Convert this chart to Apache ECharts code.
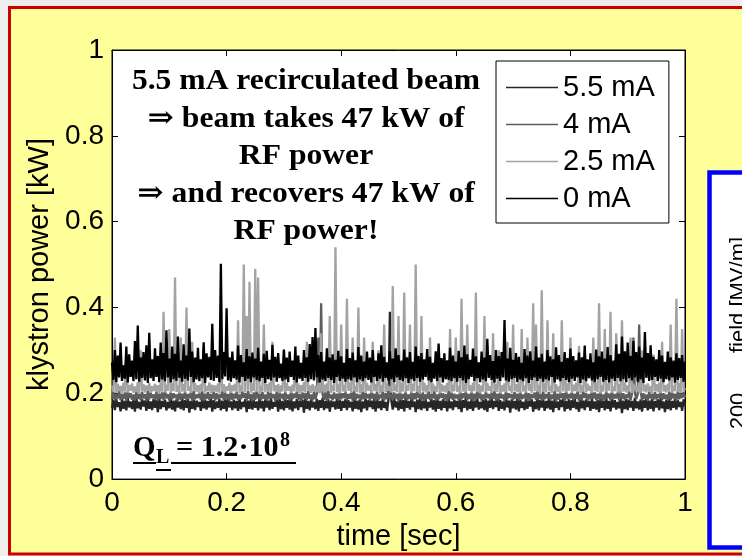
<!DOCTYPE html>
<html>
<head>
  <meta charset="UTF-8">
  <title>klystron power</title>
  <script src="https://cdn.jsdelivr.net/npm/echarts/dist/echarts.min.js"></script>
</head>
<style type="text/css">
    html,body {padding: 0; margin: 0; background: #eeeeee;}
    #chart {width: 742px; height: 556px;}
</style>
<body>
<div id="chart"></div>
<script type="text/javascript">

    // sample spacing of the traces [sec]
    var dt = 0.0025;

    var seriesNames = ['5.5 mA', '4 mA', '2.5 mA', '0 mA'];
    var xTicks = [0, 0.2, 0.4, 0.6, 0.8, 1];
    var yTicks = [0, 0.2, 0.4, 0.6, 0.8, 1];

    // 5.5 mA
    var p55 = [
        0.166, 0.184, 0.161, 0.187, 0.168, 0.179, 0.158, 0.186, 0.164, 0.182, 0.160, 0.189, 0.167, 0.181, 0.163, 0.185, 0.157, 0.188, 0.165, 0.180,
        0.162, 0.186, 0.169, 0.183, 0.159, 0.188, 0.164, 0.181, 0.161, 0.187, 0.166, 0.184, 0.156, 0.189, 0.163, 0.182, 0.168, 0.185, 0.160, 0.180,
        0.165, 0.188, 0.162, 0.183, 0.158, 0.186, 0.167, 0.181, 0.163, 0.189, 0.160, 0.184, 0.166, 0.187, 0.155, 0.182, 0.164, 0.186, 0.161, 0.183,
        0.168, 0.180, 0.159, 0.188, 0.165, 0.185, 0.162, 0.182, 0.167, 0.189, 0.157, 0.184, 0.163, 0.181, 0.166, 0.187, 0.160, 0.183, 0.164, 0.186,
        0.158, 0.189, 0.167, 0.181, 0.161, 0.185, 0.165, 0.182, 0.159, 0.188, 0.163, 0.180, 0.168, 0.186, 0.156, 0.183, 0.164, 0.187, 0.162, 0.184,
        0.166, 0.181, 0.160, 0.189, 0.165, 0.182, 0.158, 0.186, 0.167, 0.183, 0.161, 0.188, 0.164, 0.180, 0.169, 0.185, 0.157, 0.187, 0.163, 0.182,
        0.160, 0.186, 0.166, 0.184, 0.162, 0.189, 0.158, 0.181, 0.165, 0.187, 0.161, 0.183, 0.168, 0.185, 0.155, 0.188, 0.164, 0.182, 0.160, 0.186,
        0.167, 0.180, 0.163, 0.187, 0.159, 0.184, 0.166, 0.189, 0.161, 0.182, 0.165, 0.186, 0.157, 0.183, 0.168, 0.181, 0.162, 0.188, 0.164, 0.185,
        0.159, 0.182, 0.166, 0.187, 0.161, 0.184, 0.167, 0.180, 0.158, 0.189, 0.164, 0.183, 0.162, 0.186, 0.156, 0.181, 0.165, 0.188, 0.160, 0.184,
        0.168, 0.183, 0.163, 0.186, 0.157, 0.189, 0.165, 0.182, 0.161, 0.187, 0.166, 0.180, 0.159, 0.185, 0.390, 0.183, 0.162, 0.188, 0.167, 0.181,
        0.160, 0.186, 0.164, 0.184, 0.158, 0.189, 0.166, 0.182, 0.162, 0.187, 0.168, 0.181, 0.156, 0.185, 0.163, 0.188, 0.161, 0.183, 0.165, 0.186,
        0.159, 0.180, 0.167, 0.187, 0.162, 0.184, 0.157, 0.189, 0.164, 0.182, 0.160, 0.186, 0.166, 0.183, 0.158, 0.188, 0.165, 0.181, 0.161, 0.185,
        0.168, 0.182, 0.163, 0.187, 0.156, 0.184, 0.166, 0.189, 0.160, 0.181, 0.164, 0.186, 0.159, 0.183, 0.167, 0.188, 0.162, 0.180, 0.165, 0.185,
        0.161, 0.187, 0.157, 0.183, 0.166, 0.189, 0.163, 0.182, 0.168, 0.186, 0.159, 0.184, 0.164, 0.181, 0.160, 0.188, 0.167, 0.183, 0.155, 0.186,
        0.165, 0.182, 0.162, 0.189, 0.158, 0.185, 0.166, 0.180, 0.161, 0.187, 0.164, 0.183, 0.169, 0.186, 0.157, 0.181, 0.163, 0.188, 0.160, 0.184,
        0.167, 0.186, 0.159, 0.182, 0.165, 0.189, 0.162, 0.183, 0.156, 0.187, 0.166, 0.181, 0.161, 0.185, 0.168, 0.188, 0.158, 0.182, 0.164, 0.186,
        0.160, 0.184, 0.166, 0.189, 0.163, 0.180, 0.157, 0.187, 0.165, 0.183, 0.161, 0.186, 0.168, 0.182, 0.159, 0.188, 0.164, 0.181, 0.162, 0.185,
        0.156, 0.187, 0.166, 0.183, 0.160, 0.189, 0.164, 0.182, 0.158, 0.186, 0.167, 0.184, 0.162, 0.180, 0.165, 0.188, 0.154, 0.183, 0.163, 0.187,
        0.161, 0.185, 0.167, 0.182, 0.159, 0.189, 0.165, 0.181, 0.162, 0.186, 0.157, 0.184, 0.166, 0.188, 0.160, 0.183, 0.164, 0.187, 0.158, 0.182,
        0.167, 0.186, 0.161, 0.189, 0.165, 0.181, 0.156, 0.185, 0.163, 0.188, 0.160, 0.182, 0.166, 0.187, 0.162, 0.184, 0.168, 0.180, 0.159, 0.186,
        0.170
    ];

    // 4 mA
    var p4 = [
        0.186, 0.203, 0.183, 0.199, 0.188, 0.205, 0.184, 0.198, 0.187, 0.202, 0.182, 0.206, 0.189, 0.200, 0.185, 0.197, 0.183, 0.204, 0.187, 0.199,
        0.184, 0.203, 0.188, 0.198, 0.182, 0.205, 0.186, 0.201, 0.189, 0.197, 0.185, 0.204, 0.183, 0.199, 0.187, 0.202, 0.184, 0.206, 0.188, 0.198,
        0.183, 0.203, 0.186, 0.200, 0.189, 0.197, 0.182, 0.205, 0.185, 0.199, 0.187, 0.204, 0.184, 0.198, 0.188, 0.202, 0.183, 0.206, 0.186, 0.197,
        0.189, 0.201, 0.184, 0.205, 0.182, 0.199, 0.187, 0.203, 0.185, 0.198, 0.188, 0.204, 0.183, 0.200, 0.186, 0.197, 0.189, 0.205, 0.184, 0.202,
        0.187, 0.198, 0.182, 0.206, 0.185, 0.199, 0.188, 0.203, 0.184, 0.197, 0.186, 0.204, 0.189, 0.200, 0.183, 0.205, 0.187, 0.198, 0.182, 0.202,
        0.185, 0.206, 0.188, 0.199, 0.184, 0.203, 0.187, 0.197, 0.183, 0.204, 0.186, 0.200, 0.189, 0.198, 0.182, 0.205, 0.185, 0.202, 0.188, 0.199,
        0.184, 0.203, 0.187, 0.197, 0.183, 0.206, 0.186, 0.199, 0.189, 0.204, 0.185, 0.198, 0.182, 0.202, 0.188, 0.200, 0.184, 0.205, 0.187, 0.197,
        0.183, 0.204, 0.186, 0.199, 0.330, 0.201, 0.410, 0.198, 0.185, 0.203, 0.182, 0.206, 0.188, 0.197, 0.184, 0.202, 0.187, 0.199, 0.183, 0.205,
        0.186, 0.200, 0.189, 0.204, 0.184, 0.198, 0.187, 0.203, 0.182, 0.206, 0.185, 0.199, 0.188, 0.197, 0.183, 0.204, 0.186, 0.201, 0.189, 0.198,
        0.184, 0.205, 0.187, 0.199, 0.182, 0.203, 0.185, 0.197, 0.188, 0.204, 0.183, 0.200, 0.186, 0.206, 0.189, 0.198, 0.184, 0.202, 0.187, 0.199,
        0.182, 0.205, 0.185, 0.198, 0.188, 0.203, 0.184, 0.197, 0.187, 0.204, 0.183, 0.200, 0.186, 0.206, 0.189, 0.199, 0.185, 0.202, 0.182, 0.198,
        0.187, 0.204, 0.184, 0.199, 0.188, 0.205, 0.183, 0.197, 0.186, 0.203, 0.189, 0.200, 0.185, 0.198, 0.182, 0.206, 0.187, 0.202, 0.184, 0.199,
        0.188, 0.197, 0.183, 0.204, 0.186, 0.200, 0.189, 0.205, 0.184, 0.198, 0.187, 0.203, 0.182, 0.199, 0.185, 0.206, 0.188, 0.201, 0.183, 0.197,
        0.186, 0.204, 0.189, 0.198, 0.184, 0.202, 0.187, 0.205, 0.183, 0.199, 0.185, 0.203, 0.188, 0.197, 0.182, 0.206, 0.186, 0.200, 0.189, 0.198,
        0.184, 0.203, 0.187, 0.199, 0.183, 0.205, 0.186, 0.197, 0.188, 0.204, 0.182, 0.200, 0.185, 0.198, 0.189, 0.202, 0.184, 0.206, 0.187, 0.199,
        0.183, 0.204, 0.186, 0.198, 0.188, 0.203, 0.184, 0.197, 0.187, 0.205, 0.182, 0.199, 0.185, 0.202, 0.189, 0.200, 0.183, 0.206, 0.186, 0.198,
        0.188, 0.203, 0.184, 0.199, 0.187, 0.205, 0.182, 0.197, 0.185, 0.204, 0.189, 0.200, 0.183, 0.198, 0.186, 0.206, 0.188, 0.202, 0.184, 0.199,
        0.187, 0.203, 0.182, 0.197, 0.185, 0.205, 0.189, 0.199, 0.184, 0.204, 0.186, 0.198, 0.188, 0.202, 0.183, 0.206, 0.187, 0.200, 0.185, 0.197,
        0.189, 0.204, 0.184, 0.199, 0.330, 0.202, 0.186, 0.198, 0.360, 0.205, 0.183, 0.200, 0.187, 0.197, 0.182, 0.204, 0.188, 0.199, 0.185, 0.203,
        0.186, 0.198, 0.189, 0.205, 0.184, 0.200, 0.187, 0.197, 0.183, 0.204, 0.185, 0.202, 0.188, 0.199, 0.182, 0.206, 0.186, 0.198, 0.189, 0.203,
        0.190
    ];

    // 2.5 mA
    var p25 = [
        0.218, 0.203, 0.330, 0.201, 0.222, 0.205, 0.217, 0.200, 0.225, 0.204, 0.290, 0.202, 0.219, 0.206, 0.223, 0.201, 0.216, 0.203, 0.226, 0.200,
        0.300, 0.204, 0.221, 0.202, 0.218, 0.206, 0.224, 0.201, 0.217, 0.205, 0.222, 0.203, 0.219, 0.200, 0.225, 0.204, 0.390, 0.202, 0.220, 0.206,
        0.350, 0.201, 0.223, 0.205, 0.470, 0.203, 0.218, 0.200, 0.330, 0.204, 0.221, 0.202, 0.400, 0.206, 0.216, 0.201, 0.320, 0.205, 0.224, 0.203,
        0.219, 0.200, 0.222, 0.204, 0.310, 0.202, 0.217, 0.206, 0.225, 0.201, 0.220, 0.205, 0.218, 0.203, 0.223, 0.200, 0.300, 0.204, 0.221, 0.202,
        0.216, 0.206, 0.224, 0.201, 0.219, 0.205, 0.222, 0.203, 0.370, 0.200, 0.218, 0.204, 0.500, 0.202, 0.380, 0.206, 0.460, 0.201, 0.223, 0.205,
        0.490, 0.203, 0.470, 0.200, 0.217, 0.204, 0.360, 0.202, 0.221, 0.206, 0.225, 0.201, 0.320, 0.205, 0.219, 0.203, 0.222, 0.200, 0.218, 0.204,
        0.300, 0.202, 0.224, 0.206, 0.216, 0.201, 0.220, 0.205, 0.290, 0.203, 0.223, 0.200, 0.219, 0.204, 0.226, 0.202, 0.320, 0.206, 0.218, 0.201,
        0.221, 0.205, 0.217, 0.203, 0.224, 0.200, 0.340, 0.204, 0.220, 0.202, 0.223, 0.206, 0.380, 0.201, 0.218, 0.205, 0.540, 0.203, 0.222, 0.200,
        0.360, 0.204, 0.219, 0.202, 0.420, 0.206, 0.225, 0.201, 0.330, 0.205, 0.217, 0.203, 0.400, 0.200, 0.221, 0.204, 0.330, 0.202, 0.224, 0.206,
        0.218, 0.201, 0.320, 0.205, 0.222, 0.203, 0.300, 0.200, 0.219, 0.204, 0.360, 0.202, 0.223, 0.206, 0.216, 0.201, 0.450, 0.205, 0.220, 0.203,
        0.380, 0.200, 0.224, 0.204, 0.435, 0.202, 0.218, 0.206, 0.360, 0.201, 0.221, 0.205, 0.500, 0.203, 0.217, 0.200, 0.380, 0.204, 0.225, 0.202,
        0.219, 0.206, 0.330, 0.201, 0.223, 0.205, 0.216, 0.203, 0.310, 0.200, 0.222, 0.204, 0.218, 0.202, 0.224, 0.206, 0.350, 0.201, 0.220, 0.205,
        0.330, 0.203, 0.217, 0.200, 0.420, 0.204, 0.223, 0.202, 0.360, 0.206, 0.219, 0.201, 0.225, 0.205, 0.435, 0.203, 0.221, 0.200, 0.218, 0.204,
        0.380, 0.202, 0.224, 0.206, 0.216, 0.201, 0.340, 0.205, 0.222, 0.203, 0.300, 0.200, 0.219, 0.204, 0.223, 0.202, 0.320, 0.206, 0.217, 0.201,
        0.360, 0.205, 0.221, 0.203, 0.225, 0.200, 0.350, 0.204, 0.218, 0.202, 0.330, 0.206, 0.222, 0.201, 0.410, 0.205, 0.360, 0.203, 0.219, 0.200,
        0.440, 0.204, 0.224, 0.202, 0.370, 0.206, 0.217, 0.201, 0.340, 0.205, 0.221, 0.203, 0.216, 0.200, 0.370, 0.204, 0.290, 0.202, 0.223, 0.206,
        0.330, 0.201, 0.220, 0.205, 0.225, 0.203, 0.310, 0.200, 0.218, 0.204, 0.300, 0.202, 0.222, 0.206, 0.217, 0.201, 0.330, 0.205, 0.224, 0.203,
        0.410, 0.200, 0.219, 0.204, 0.350, 0.202, 0.223, 0.206, 0.390, 0.201, 0.216, 0.205, 0.340, 0.203, 0.221, 0.200, 0.370, 0.204, 0.225, 0.202,
        0.218, 0.206, 0.330, 0.201, 0.222, 0.205, 0.217, 0.203, 0.224, 0.200, 0.300, 0.204, 0.220, 0.202, 0.223, 0.206, 0.216, 0.201, 0.290, 0.205,
        0.221, 0.203, 0.225, 0.200, 0.320, 0.204, 0.219, 0.202, 0.222, 0.206, 0.360, 0.201, 0.218, 0.205, 0.420, 0.203, 0.224, 0.200, 0.350, 0.204,
        0.212
    ];

    // 0 mA
    var p0 = [
        0.272, 0.231, 0.301, 0.226, 0.288, 0.237, 0.318, 0.229, 0.265, 0.234, 0.309, 0.225, 0.291, 0.238, 0.276, 0.228, 0.322, 0.233, 0.358, 0.227,
        0.284, 0.236, 0.296, 0.230, 0.312, 0.224, 0.341, 0.235, 0.279, 0.229, 0.305, 0.238, 0.287, 0.226, 0.318, 0.232, 0.294, 0.228, 0.347, 0.237,
        0.281, 0.225, 0.309, 0.233, 0.292, 0.229, 0.332, 0.236, 0.276, 0.227, 0.314, 0.234, 0.288, 0.230, 0.351, 0.238, 0.297, 0.226, 0.283, 0.232,
        0.306, 0.228, 0.279, 0.235, 0.319, 0.224, 0.293, 0.237, 0.285, 0.231, 0.362, 0.229, 0.301, 0.236, 0.288, 0.226, 0.502, 0.233, 0.296, 0.239,
        0.398, 0.230, 0.284, 0.227, 0.297, 0.235, 0.277, 0.232, 0.311, 0.225, 0.289, 0.238, 0.272, 0.229, 0.303, 0.234, 0.286, 0.226, 0.295, 0.237,
        0.281, 0.231, 0.306, 0.228, 0.274, 0.236, 0.292, 0.224, 0.299, 0.233, 0.278, 0.230, 0.313, 0.237, 0.285, 0.227, 0.294, 0.235, 0.269, 0.229,
        0.302, 0.232, 0.283, 0.226, 0.297, 0.238, 0.276, 0.231, 0.309, 0.225, 0.288, 0.234, 0.271, 0.229, 0.301, 0.236, 0.284, 0.227, 0.315, 0.233,
        0.331, 0.230, 0.352, 0.237, 0.289, 0.225, 0.296, 0.232, 0.274, 0.228, 0.305, 0.236, 0.283, 0.231, 0.291, 0.224, 0.278, 0.238, 0.299, 0.229,
        0.286, 0.234, 0.271, 0.227, 0.303, 0.233, 0.282, 0.230, 0.295, 0.237, 0.277, 0.226, 0.308, 0.232, 0.288, 0.228, 0.274, 0.235, 0.297, 0.231,
        0.283, 0.225, 0.301, 0.238, 0.276, 0.229, 0.293, 0.234, 0.312, 0.227, 0.285, 0.236, 0.272, 0.230, 0.298, 0.233, 0.281, 0.226, 0.305, 0.237,
        0.289, 0.231, 0.276, 0.228, 0.302, 0.235, 0.284, 0.224, 0.296, 0.233, 0.273, 0.229, 0.309, 0.236, 0.287, 0.227, 0.294, 0.232, 0.279, 0.238,
        0.303, 0.230, 0.285, 0.226, 0.271, 0.234, 0.298, 0.229, 0.316, 0.237, 0.282, 0.225, 0.293, 0.233, 0.277, 0.231, 0.306, 0.228, 0.288, 0.235,
        0.274, 0.227, 0.299, 0.236, 0.284, 0.230, 0.311, 0.224, 0.291, 0.233, 0.278, 0.238, 0.304, 0.229, 0.286, 0.235, 0.272, 0.226, 0.297, 0.232,
        0.283, 0.228, 0.327, 0.236, 0.289, 0.231, 0.275, 0.225, 0.301, 0.234, 0.287, 0.229, 0.296, 0.237, 0.371, 0.230, 0.281, 0.227, 0.306, 0.233,
        0.278, 0.236, 0.294, 0.226, 0.285, 0.232, 0.271, 0.228, 0.303, 0.235, 0.288, 0.224, 0.298, 0.231, 0.276, 0.237, 0.309, 0.229, 0.283, 0.234,
        0.292, 0.227, 0.274, 0.233, 0.301, 0.230, 0.286, 0.238, 0.279, 0.225, 0.307, 0.232, 0.289, 0.228, 0.273, 0.236, 0.296, 0.231, 0.282, 0.226,
        0.304, 0.234, 0.287, 0.229, 0.277, 0.237, 0.295, 0.224, 0.284, 0.232, 0.311, 0.228, 0.279, 0.235, 0.293, 0.230, 0.272, 0.226, 0.302, 0.233,
        0.286, 0.238, 0.297, 0.227, 0.281, 0.231, 0.308, 0.225, 0.289, 0.234, 0.276, 0.229, 0.314, 0.236, 0.292, 0.228, 0.332, 0.233, 0.298, 0.226,
        0.318, 0.235, 0.287, 0.230, 0.322, 0.237, 0.296, 0.227, 0.309, 0.232, 0.283, 0.224, 0.343, 0.236, 0.294, 0.229, 0.312, 0.231, 0.285, 0.238,
        0.279, 0.228, 0.301, 0.234, 0.288, 0.226, 0.273, 0.233, 0.297, 0.230, 0.284, 0.237, 0.276, 0.225, 0.293, 0.231, 0.282, 0.236, 0.289, 0.227,
        0.274
    ];

    var seriesData = [p55, p4, p25, p0];
    var seriesColors = ['#262626', '#5e5e5e', '#a3a3a3', '#000000'];

    function toPoints(vals) {
        return vals.map(function (v, i) { return [i * dt, v]; });
    }

    var sans = '"Liberation Sans", Arial, sans-serif';
    var serif = '"Liberation Serif", "DejaVu Serif", serif';
    var labelFont = {fontFamily: sans, fontSize: 28, color: '#000'};
    var tick = {show: true, inside: true, length: 6, lineStyle: {color: '#000', width: 1}};
    var line = {show: true, onZero: false, lineStyle: {color: '#000', width: 1}};

    var series = seriesData.map(function (vals, k) {
        return {
            name: seriesNames[k],
            type: 'line',
            xAxisIndex: 0,
            yAxisIndex: 0,
            symbol: 'none',
            data: toPoints(vals),
            lineStyle: {color: seriesColors[k], width: 2.3},
            itemStyle: {color: seriesColors[k]},
            emphasis: {disabled: true}
        };
    });

    var option = {
        animation: false,
        grid: {left: 112, top: 50, width: 573, height: 430, show: true,
               backgroundColor: '#fff', borderColor: '#000', borderWidth: 1},
        legend: {
            data: seriesNames,
            orient: 'vertical',
            left: 496, top: 61,
            padding: [12, 14, 10, 10],
            itemGap: 8,
            icon: 'rect',
            itemWidth: 52, itemHeight: 1.5,
            backgroundColor: '#fff', borderColor: '#000', borderWidth: 1,
            textStyle: {fontFamily: sans, fontSize: 29, lineHeight: 29, color: '#000'},
            z: 20
        },
        xAxis: [{
            type: 'value', min: xTicks[0], max: xTicks[xTicks.length - 1], interval: 0.2,
            position: 'bottom',
            axisLine: line, axisTick: tick, splitLine: {show: false},
            axisLabel: Object.assign({margin: 10, formatter: function (v) { return String(+v.toFixed(1)); }}, labelFont),
            name: 'time [sec]', nameLocation: 'middle', nameGap: 40,
            nameTextStyle: {fontFamily: sans, fontSize: 29, color: '#000'}
        }, {
            type: 'value', min: 0, max: 1, interval: 0.2, position: 'top',
            axisLine: line, axisTick: tick, axisLabel: {show: false}, splitLine: {show: false}
        }],
        yAxis: [{
            type: 'value', min: yTicks[0], max: yTicks[yTicks.length - 1], interval: 0.2,
            position: 'left',
            axisLine: line, axisTick: tick, splitLine: {show: false},
            axisLabel: Object.assign({margin: 8, formatter: function (v) { return String(+v.toFixed(1)); }}, labelFont),
            name: 'klystron power [kW]', nameLocation: 'middle', nameGap: 57, nameRotate: 90,
            nameTextStyle: {fontFamily: sans, fontSize: 29, color: '#000'}
        }, {
            type: 'value', min: 0, max: 1, interval: 0.2, position: 'right',
            axisLine: line, axisTick: tick, axisLabel: {show: false}, splitLine: {show: false}
        }],
        graphic: [
            // slide background with red frame
            {type: 'rect', z: -10, silent: true,
             shape: {x: 9.5, y: 7.5, width: 780, height: 546.5},
             style: {fill: '#ffff99', stroke: '#cc0000', lineWidth: 3}},
            // neighbouring panel with blue frame
            {type: 'rect', z: -5, silent: true,
             shape: {x: 709.5, y: 172.5, width: 100, height: 375},
             style: {fill: '#fff', stroke: '#0000ff', lineWidth: 4.5}},
            {type: 'text', z: -4, silent: true, x: 728, y: 295, rotation: Math.PI / 2,
             style: {text: 'field [MV/m]', fill: '#000', font: '22px ' + sans,
                     align: 'center', verticalAlign: 'top'}},
            {type: 'text', z: -4, silent: true, x: 728, y: 411, rotation: Math.PI / 2,
             style: {text: '200', fill: '#000', font: '22px ' + sans,
                     align: 'center', verticalAlign: 'top'}},
            // annotation
            {type: 'text', z: 30, silent: true, x: 306, y: 63, scaleX: 1.09,
             style: {text: '5.5 mA recirculated beam\n\u21d2 beam takes 47 kW of\nRF power\n\u21d2 and recovers 47 kW of\nRF power!',
                     fill: '#000', font: 'bold 29px ' + serif,
                     align: 'center', verticalAlign: 'top', lineHeight: 37.5}},
            {type: 'text', z: 30, silent: true, x: 133, y: 449,
             style: {text: 'Q', fill: '#000', font: 'bold 29px ' + serif, align: 'left', verticalAlign: 'middle'}},
            {type: 'text', z: 30, silent: true, x: 156, y: 458,
             style: {text: 'L', fill: '#000', font: 'bold 20px ' + serif, align: 'left', verticalAlign: 'middle'}},
            {type: 'text', z: 30, silent: true, x: 176, y: 449, scaleX: 1.04,
             style: {text: '= 1.2\u00b710', fill: '#000', font: 'bold 29px ' + serif, align: 'left', verticalAlign: 'middle'}},
            {type: 'text', z: 30, silent: true, x: 280, y: 441,
             style: {text: '8', fill: '#000', font: 'bold 20px ' + serif, align: 'left', verticalAlign: 'middle'}},
            {type: 'rect', z: 30, silent: true, shape: {x: 133, y: 462, width: 23, height: 2}, style: {fill: '#000'}},
            {type: 'rect', z: 30, silent: true, shape: {x: 156, y: 469, width: 15, height: 2}, style: {fill: '#000'}},
            {type: 'rect', z: 30, silent: true, shape: {x: 171, y: 462, width: 125, height: 2}, style: {fill: '#000'}}
        ],
        series: series
    };

    var myChart = echarts.init(document.getElementById('chart'));
    myChart.setOption(option, true);

</script>
</body>
</html>
